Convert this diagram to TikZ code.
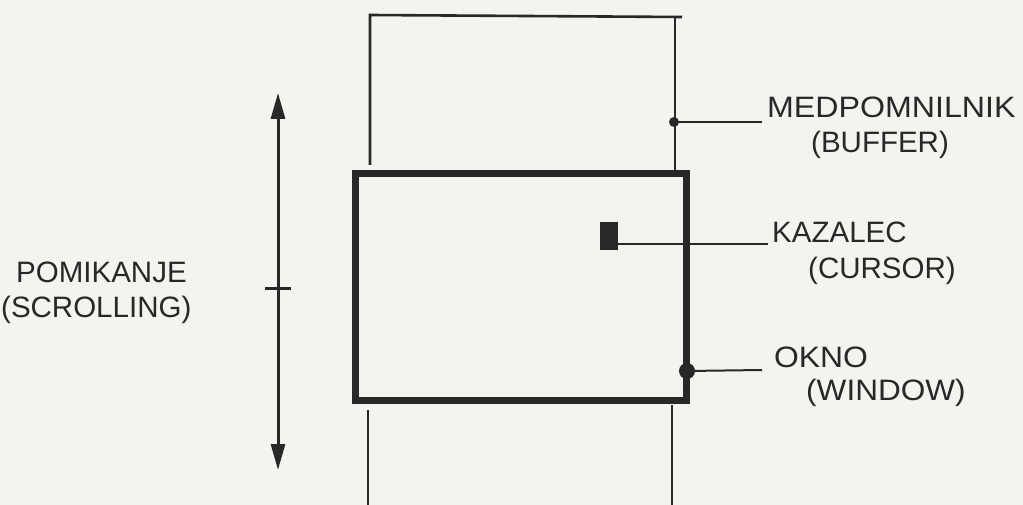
\documentclass[tikz,border=0pt]{standalone}
\usepackage{fontspec}
\setmainfont{Liberation Sans}
\usetikzlibrary{arrows.meta}
\definecolor{paper}{RGB}{243,243,240}
\definecolor{ink}{RGB}{40,40,40}
\tikzset{
  lbl/.style={anchor=base west, inner sep=0pt, text=ink, font=\fontsize{29.5}{30}\selectfont},
  bufline/.style={draw=ink, line width=2.6pt},
  conn/.style={draw=ink, line width=2pt},
  dotmark/.style={circle, fill=ink, inner sep=0pt},
}
\begin{document}
\begin{tikzpicture}[x=1pt,y=-1pt]
\fill[paper] (0,0) rectangle (1023,505);
\useasboundingbox (0,0) rectangle (1023,505);
% buffer
\coordinate (bTL) at (370,15);
\coordinate (bTR) at (675,17);
\coordinate (bTRx) at (682,17);
\coordinate (bLa) at (370,165);
\coordinate (bRa) at (675,172);
\coordinate (bLb) at (368,410);
\coordinate (bRb) at (672,405);
\coordinate (bLe) at (368,505);
\coordinate (bRe) at (672,505);
\draw[bufline] (bLa) -- (bTL) -- (bTRx);
\draw[bufline] (bTR) -- (bRa);
\draw[bufline] (bLb) -- (bLe);
\draw[bufline] (bRb) -- (bRe);
% window
\node[draw=ink, line width=7pt, minimum width=331pt, minimum height=226pt, inner sep=0pt] (win) at (520.5,287) {};
% cursor
\node[fill=ink, minimum width=18pt, minimum height=28pt, inner sep=0pt] (cur) at (609,236) {};
% dots
\node[dotmark, minimum size=10pt] (bdot) at (674,122) {};
\node[dotmark, minimum size=16pt] (wdot) at (687,371) {};
% labels
\node[lbl] (med) at (767,118) {\scalebox{1.09}[1]{MEDPOMNILNIK}};
\node[lbl] (buf) at (811,153) {(BUFFER)};
\node[lbl] (kaz) at (772,243) {KAZALEC};
\node[lbl] (curl) at (808,278) {(CURSOR)};
\node[lbl] (okno) at (774,367) {\scalebox{1.08}[1]{OKNO}};
\node[lbl] (winl) at (806,400) {\scalebox{1.07}[1]{(WINDOW)}};
\node[lbl] (pom) at (16,283) {POMIKANJE};
\node[lbl] (scr) at (1,317) {(SCROLLING)};
% connectors
\coordinate (bend) at (762,122);
\coordinate (cend) at (768,244);
\coordinate (wend) at (762,370);
\draw[conn] (bdot.center) -- (bend);
\draw[conn] (cur.east |- cend) -- (cend);
\draw[conn] (wdot.center) -- (wend);
% scrolling arrow
\coordinate (aTop) at (278,93);
\coordinate (aBot) at (278,470);
\coordinate (tickL) at (265,288);
\coordinate (tickR) at (291,288);
\draw[draw=ink, line width=3pt, {Triangle[width=14pt,length=26pt]}-{Triangle[width=14pt,length=26pt]}] (aTop) -- (aBot);
\draw[draw=ink, line width=3pt] (tickL) -- (tickR);
\end{tikzpicture}
\end{document}
